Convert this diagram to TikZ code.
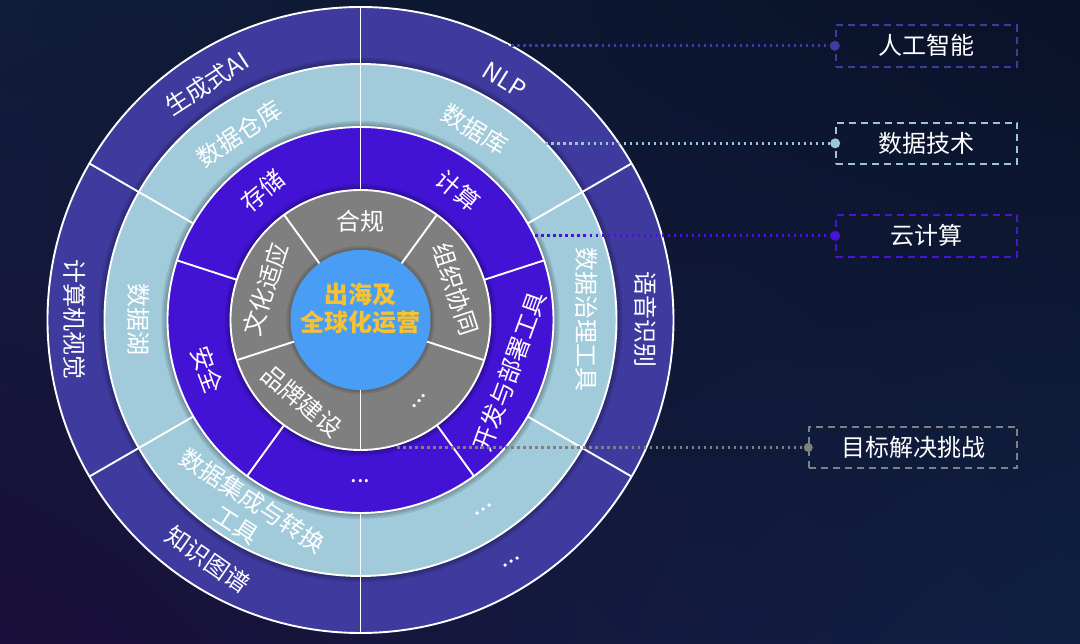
\documentclass[tikz,border=0pt]{standalone}
\usepackage{fontspec}
\setmainfont{Noto Sans CJK SC}
\usetikzlibrary{shadings}
\definecolor{bgTL}{HTML}{0F1D3A}
\definecolor{bgTR}{HTML}{0A1128}
\definecolor{bgBL}{HTML}{1A0F3A}
\definecolor{bgBR}{HTML}{0F2142}
\definecolor{ringA}{RGB}{62,58,158}
\definecolor{ringB}{RGB}{161,203,219}
\definecolor{ringC}{RGB}{67,19,213}
\definecolor{ringD}{RGB}{127,127,127}
\definecolor{ringE}{RGB}{74,157,244}
\definecolor{gold}{HTML}{F7C232}
\definecolor{kAI}{RGB}{64,58,164}
\definecolor{kData}{RGB}{154,198,214}
\definecolor{kCloud}{RGB}{74,20,216}
\definecolor{kGoal}{RGB}{128,128,128}
\begin{document}
\begin{tikzpicture}[x=1pt,y=1pt,
  lbl/.style={text=white, font=\fontsize{24}{29}\selectfont, inner sep=0pt, align=center},
  sep/.style={draw=white, line width=1.9pt},
  shad/.style={fill=black, opacity=0.10},
  legbox/.style={draw, dash pattern=on 7pt off 5pt, line width=2pt, minimum height=41.5pt,
    text=white, font=\fontsize{24}{28}\selectfont, inner sep=0pt},
  dotline/.style={line width=2.6pt, dash pattern=on 2.6pt off 3.4pt}]
\useasboundingbox (-360.5,-324) rectangle (719.5,320);
\shade[upper left=bgTL, upper right=bgTR, lower left=bgBL, lower right=bgBR]
  (-360.5,-324) rectangle (719.5,320);
% rings with soft shadows
\fill[ringA] (0,0) circle (313);
\foreach \d in {2,4,6} \fill[shad] (0,0) circle ({256+\d});
\fill[ringB] (0,0) circle (256);
\foreach \d in {2,4,6} \fill[shad] (0,0) circle ({193+\d});
\fill[ringC] (0,0) circle (193);
\foreach \d in {2,4,6} \fill[shad] (0,0) circle ({130+\d});
\fill[ringD] (0,0) circle (130);
\foreach \d in {2,4} \fill[shad] (0,0) circle ({70+\d});
\fill[ringE] (0,0) circle (70);
% dividers
\foreach \a in {30,90,...,330} \draw[sep] (\a:193) -- (\a:313);
\foreach \a in {18,90,162,234,306} \draw[sep] (\a:130) -- (\a:193);
\foreach \a in {54,126,198,270,342} \draw[sep] (\a:70) -- (\a:130);
\foreach \r in {313,256,193,130} \draw[sep] (0,0) circle (\r);
% outer ring labels
\node[lbl, rotate=33] (genai) at (123:282) {生成式AI};
\node[lbl, rotate=-32] (nlp) at (59:280) {NLP};
\node[lbl, rotate=-90] (speech) at (0:285) {语音识别};
\node[lbl, rotate=-90] (cv) at (180:286) {计算机视觉};
\node[lbl, rotate=-35] (kg) at (237.5:284) {知识图谱};
\node[lbl, rotate=32] (odots) at (302:285) {...};
% light ring labels
\node[lbl, rotate=34] (dw) at (123:222) {数据仓库};
\node[lbl, rotate=-31] (db) at (59:222) {数据库};
\node[lbl, rotate=-90] (lake) at (180:222) {数据湖};
\node[lbl, rotate=-90] (gov) at (0:226) {数据治理工具};
\node[lbl, rotate=-33] (etl) at (239:225) {数据集成与转换\\工具};
\node[lbl, rotate=33] (ldots) at (303:226) {...};
% purple ring labels
\node[lbl, rotate=40] (store) at (127:162) {存储};
\node[lbl, rotate=-40] (compute) at (53:162) {计算};
\node[lbl, rotate=70] (devops) at (-19:158) {开发与部署工具};
\node[lbl] (pdots) at (270:161) {...};
\node[lbl, rotate=-70] (sec) at (198:161) {安全};
% gray ring labels
\node[lbl] (comp) at (90:99) {合规};
\node[lbl, rotate=-72] (org) at (18:100) {组织协同};
\node[lbl, rotate=72] (cult) at (162:100) {文化适应};
\node[lbl, rotate=-40] (brand) at (234:100) {品牌建设};
\node[lbl, rotate=50] (gdots) at (306:100) {...};
% center
\node[text=gold, font=\fontsize{24}{28}\selectfont\bfseries, align=center, inner sep=0pt]
  (core) at (0,11) {出海及\\全球化运营};
% legend
\node[legbox, draw=kAI, minimum width=181pt] (bAI) at (565.8,274.2) {人工智能};
\node[legbox, draw=kData, minimum width=181pt] (bData) at (566.2,176.7) {数据技术};
\node[legbox, draw=kCloud, minimum width=181pt] (bCloud) at (566.2,84.2) {云计算};
\node[legbox, draw=kGoal, minimum width=208pt] (bGoal) at (552.8,-127.5) {目标解决挑战};
\coordinate (sAI) at (145,274.2);
\coordinate (sData) at (185,176.7);
\coordinate (sCloud) at (175,84.2);
\coordinate (sGoal) at (37,-127.5);
\draw[dotline, kAI] (sAI) -- (bAI.west);
\draw[dotline, kData] (sData) -- (bData.west);
\draw[dotline, kCloud] (sCloud) -- (bCloud.west);
\draw[dotline, kGoal] (sGoal) -- (bGoal.west);
\fill[kAI] (bAI.west) circle (5);
\fill[kData] (bData.west) circle (5);
\fill[kCloud] (bCloud.west) circle (5);
\fill[kGoal] (bGoal.west) circle (4.5);
\end{tikzpicture}
\end{document}
